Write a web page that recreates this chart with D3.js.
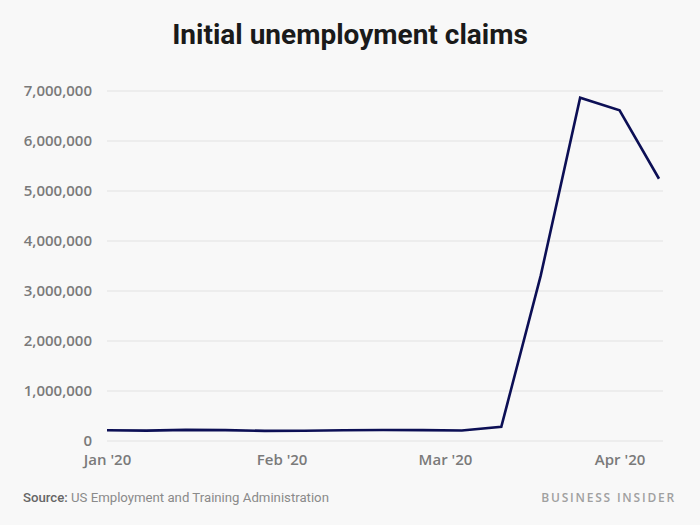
<!DOCTYPE html>
<html>
<head>
<meta charset="utf-8">
<script src="https://cdn.jsdelivr.net/npm/d3@7"></script>
<style>
  html, body { margin: 0; padding: 0; background: #f8f8f8; }
  svg { display: block; }
</style>
</head>
<body>
<div id="chart"></div>
<script>
// Weekly points (plotted on Wednesdays of each week)
const dates = ["2020-01-01","2020-01-08","2020-01-15","2020-01-22","2020-01-29",
  "2020-02-05","2020-02-12","2020-02-19","2020-02-26","2020-03-04",
  "2020-03-11","2020-03-18","2020-03-25","2020-04-01","2020-04-08"];
const claims = [214000, 207000, 223000, 217000, 203000,
  205000, 215000, 220000, 217000, 211000,
  282000, 3307000, 6867000, 6615000, 5245000];
const yTicks = [0, 1000000, 2000000, 3000000, 4000000, 5000000, 6000000, 7000000];
const xTickDates = ["2020-01-01","2020-02-01","2020-03-01","2020-04-01"];
const xTickLabels = ["Jan '20","Feb '20","Mar '20","Apr '20"];

const W = 700, H = 525;
const parse = d3.utcParse("%Y-%m-%d");
const data = dates.map((d, i) => ({ date: parse(d), value: claims[i] }));

const svg = d3.select("#chart").append("svg").attr("width", W).attr("height", H)
  .style("background", "#f8f8f8");

const x = d3.scaleUtc().domain([parse(dates[0]), parse(dates[dates.length - 1])]).range([107, 659]);
const y = d3.scaleLinear().domain([0, 7000000]).range([441, 91]);

// Title
svg.append("text").attr("x", 350).attr("y", 44).attr("text-anchor", "middle")
  .attr("font-family", "Roboto, sans-serif").attr("font-weight", 700)
  .attr("font-size", 28).attr("fill", "#1a1a1a").text("Initial unemployment claims");

// Gridlines
svg.append("g").selectAll("line").data(yTicks).join("line")
  .attr("x1", 107).attr("x2", 663)
  .attr("y1", d => y(d)).attr("y2", d => y(d))
  .attr("stroke", "#e2e2e2").attr("stroke-width", 1);

// Y axis
const yAxis = svg.append("g").attr("transform", "translate(92,0)")
  .call(d3.axisLeft(y).tickValues(yTicks).tickSize(0).tickPadding(0).tickFormat(d3.format(",")));
yAxis.select(".domain").remove();
yAxis.selectAll("text").attr("font-family", "'Open Sans', sans-serif").attr("font-size", 15)
  .attr("font-weight", 600).attr("fill", "#7a7a7a");

// X axis
const xAxis = svg.append("g").attr("transform", "translate(0,454)")
  .call(d3.axisBottom(x).tickValues(xTickDates.map(parse)).tickSize(0).tickPadding(0)
    .tickFormat((d, i) => xTickLabels[i]));
xAxis.select(".domain").remove();
xAxis.selectAll("text").attr("dy", "0.75em").attr("font-family", "'Open Sans', sans-serif")
  .attr("font-size", 15).attr("font-weight", 600).attr("fill", "#7a7a7a");

// Line
const line = d3.line().x(d => x(d.date)).y(d => y(d.value));
svg.append("path").datum(data).attr("d", line)
  .attr("fill", "none").attr("stroke", "#0c0f55").attr("stroke-width", 2.6)
  .attr("stroke-linejoin", "miter");

// Footer
const src = svg.append("text").attr("x", 23).attr("y", 502)
  .attr("font-family", "Roboto, sans-serif").attr("font-size", 13.2).attr("fill", "#8a8a8a");
src.append("tspan").attr("fill", "#666").attr("font-weight", 500).text("Source:");
src.append("tspan").text(" US Employment and Training Administration");

svg.append("text").attr("x", 676).attr("y", 502).attr("text-anchor", "end")
  .attr("font-family", "'Open Sans', sans-serif").attr("font-size", 12).attr("font-weight", 600)
  .attr("letter-spacing", 1.8).attr("fill", "#a0a0a0").text("BUSINESS INSIDER");
</script>
</body>
</html>
